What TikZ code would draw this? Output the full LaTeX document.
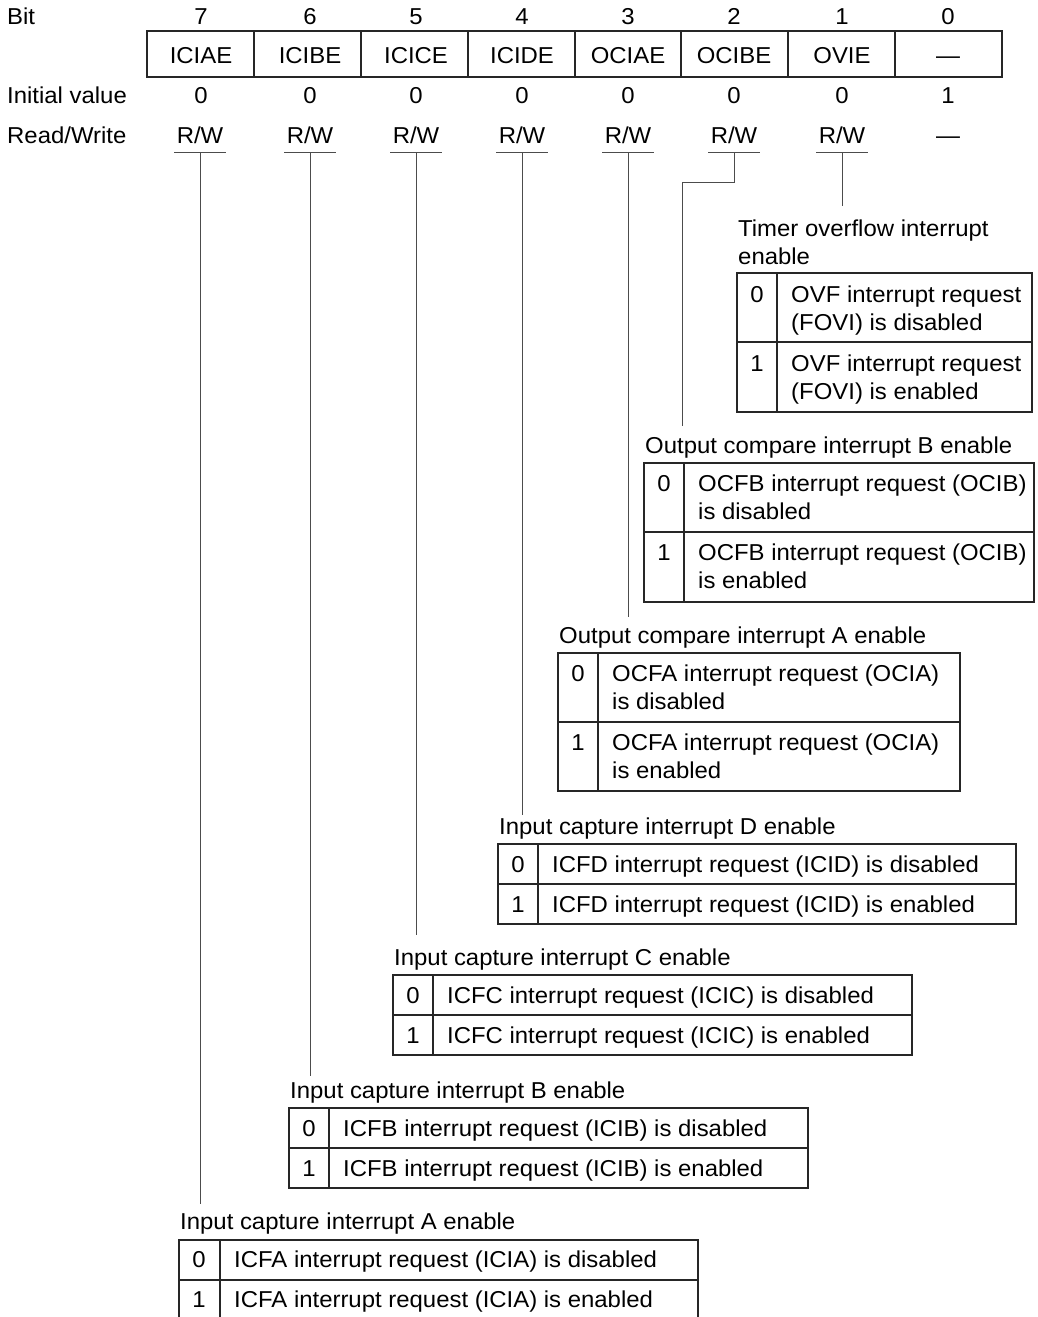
\documentclass[tikz,border=0pt]{standalone}
\usepackage{fontspec}
\setmainfont{Liberation Sans}[FakeStretch=1.04]
\begin{document}
\begin{tikzpicture}[x=1pt,y=-1pt,
  every node/.style={inner sep=0pt, font=\fontsize{23}{28}\selectfont},
  tbl/.style={line width=1.1pt, draw=black!85},
  conn/.style={line width=1pt, draw=black!70},
  lbl/.style={anchor=base west},
  ctr/.style={anchor=base}]
\useasboundingbox (0,0) rectangle (1037,1317);

% row labels
\node[lbl] (lbit) at (7,24) {Bit};
\node[lbl] (linit) at (7,103) {Initial value};
\node[lbl] (lrw) at (7,143) {Read/Write};

% register box
\draw[tbl] (147,31) rectangle (1002,77);
\foreach \x in {254,361,468,575,681,788,895} \draw[tbl] (\x,31) -- (\x,77);

\foreach \x/\b/\n/\v in {201/7/ICIAE/0, 310/6/ICIBE/0, 416/5/ICICE/0, 522/4/ICIDE/0, 628/3/OCIAE/0, 734/2/OCIBE/0, 842/1/OVIE/0, 948/0/—/1} {
  \node[ctr] (bit\b) at (\x,24) {\b};
  \node[ctr] (name\b) at (\x,63) {\n};
  \node[ctr] (init\b) at (\x,103) {\v};
}
\foreach \x/\b in {200/7, 310/6, 416/5, 522/4, 628/3, 734/2, 842/1} {
  \node[ctr] (rw\b) at (\x,143) {R/W};
  \draw[conn] (\x-26,152) -- (\x+26,152);
  \coordinate (u\b) at (\x,152);
}
\node[ctr] (rw0) at (948,143) {—};

% end points of connectors
\coordinate (e7) at (200,1204);
\coordinate (e6) at (310,1076);
\coordinate (e5) at (416,935);
\coordinate (e4) at (522,815);
\coordinate (e3) at (628,617);
\coordinate (k2) at (734,182);
\coordinate (j2) at (682,182);
\coordinate (e2) at (682,426);
\coordinate (e1) at (842,206);

\draw[conn] (u7) -- (e7);
\draw[conn] (u6) -- (e6);
\draw[conn] (u5) -- (e5);
\draw[conn] (u4) -- (e4);
\draw[conn] (u3) -- (e3);
\draw[conn] (u2) -- (k2) -- (j2) -- (e2);
\draw[conn] (u1) -- (e1);

% ---- Timer overflow table: L737 C777 R1032 T273 D342 B412
\node[lbl] (t1a) at (738,236) {Timer overflow interrupt};
\node[lbl] (t1b) at (738,264) {enable};
\draw[tbl] (737,273) rectangle (1032,412);
\draw[tbl] (737,342) -- (1032,342);
\draw[tbl] (777,273) -- (777,412);
\node[ctr] (d1a) at (757,302) {0};
\node[lbl] (x1a) at (791,302) {OVF interrupt request};
\node[lbl] (y1a) at (791,330) {(FOVI) is disabled};
\node[ctr] (d1b) at (757,371) {1};
\node[lbl] (x1b) at (791,371) {OVF interrupt request};
\node[lbl] (y1b) at (791,399) {(FOVI) is enabled};

% ---- OCIB table: L644 C684 R1034 T463 D532 B602
\node[lbl] (t2) at (645,453) {Output compare interrupt B enable};
\draw[tbl] (644,463) rectangle (1034,602);
\draw[tbl] (644,532) -- (1034,532);
\draw[tbl] (684,463) -- (684,602);
\node[ctr] (d2a) at (664,491) {0};
\node[lbl] (x2a) at (698,491) {OCFB interrupt request (OCIB)};
\node[lbl] (y2a) at (698,519) {is disabled};
\node[ctr] (d2b) at (664,560) {1};
\node[lbl] (x2b) at (698,560) {OCFB interrupt request (OCIB)};
\node[lbl] (y2b) at (698,588) {is enabled};

% ---- OCIA table: L558 C598 R960 T653 D722 B791
\node[lbl] (t3) at (559,643) {Output compare interrupt A enable};
\draw[tbl] (558,653) rectangle (960,791);
\draw[tbl] (558,722) -- (960,722);
\draw[tbl] (598,653) -- (598,791);
\node[ctr] (d3a) at (578,681) {0};
\node[lbl] (x3a) at (612,681) {OCFA interrupt request (OCIA)};
\node[lbl] (y3a) at (612,709) {is disabled};
\node[ctr] (d3b) at (578,750) {1};
\node[lbl] (x3b) at (612,750) {OCFA interrupt request (OCIA)};
\node[lbl] (y3b) at (612,778) {is enabled};

% ---- ICID table: L498 C538 R1016 T844 D884 B924
\node[lbl] (t4) at (499,834) {Input capture interrupt D enable};
\draw[tbl] (498,844) rectangle (1016,924);
\draw[tbl] (498,884) -- (1016,884);
\draw[tbl] (538,844) -- (538,924);
\node[ctr] (d4a) at (518,872) {0};
\node[lbl] (x4a) at (552,872) {ICFD interrupt request (ICID) is disabled};
\node[ctr] (d4b) at (518,912) {1};
\node[lbl] (x4b) at (552,912) {ICFD interrupt request (ICID) is enabled};

% ---- ICIC table: L393 C433 R912 T975 D1015 B1055
\node[lbl] (t5) at (394,965) {Input capture interrupt C enable};
\draw[tbl] (393,975) rectangle (912,1055);
\draw[tbl] (393,1015) -- (912,1015);
\draw[tbl] (433,975) -- (433,1055);
\node[ctr] (d5a) at (413,1003) {0};
\node[lbl] (x5a) at (447,1003) {ICFC interrupt request (ICIC) is disabled};
\node[ctr] (d5b) at (413,1043) {1};
\node[lbl] (x5b) at (447,1043) {ICFC interrupt request (ICIC) is enabled};

% ---- ICIB table: L289 C329 R808 T1108 D1148 B1188
\node[lbl] (t6) at (290,1098) {Input capture interrupt B enable};
\draw[tbl] (289,1108) rectangle (808,1188);
\draw[tbl] (289,1148) -- (808,1148);
\draw[tbl] (329,1108) -- (329,1188);
\node[ctr] (d6a) at (309,1136) {0};
\node[lbl] (x6a) at (343,1136) {ICFB interrupt request (ICIB) is disabled};
\node[ctr] (d6b) at (309,1176) {1};
\node[lbl] (x6b) at (343,1176) {ICFB interrupt request (ICIB) is enabled};

% ---- ICIA table: L179 C220 R698 T1240 D1280 B1320
\node[lbl] (t7) at (180,1229) {Input capture interrupt A enable};
\draw[tbl] (179,1240) rectangle (698,1321);
\draw[tbl] (179,1280) -- (698,1280);
\draw[tbl] (220,1240) -- (220,1321);
\node[ctr] (d7a) at (199,1267) {0};
\node[lbl] (x7a) at (234,1267) {ICFA interrupt request (ICIA) is disabled};
\node[ctr] (d7b) at (199,1307) {1};
\node[lbl] (x7b) at (234,1307) {ICFA interrupt request (ICIA) is enabled};
\end{tikzpicture}
\end{document}
